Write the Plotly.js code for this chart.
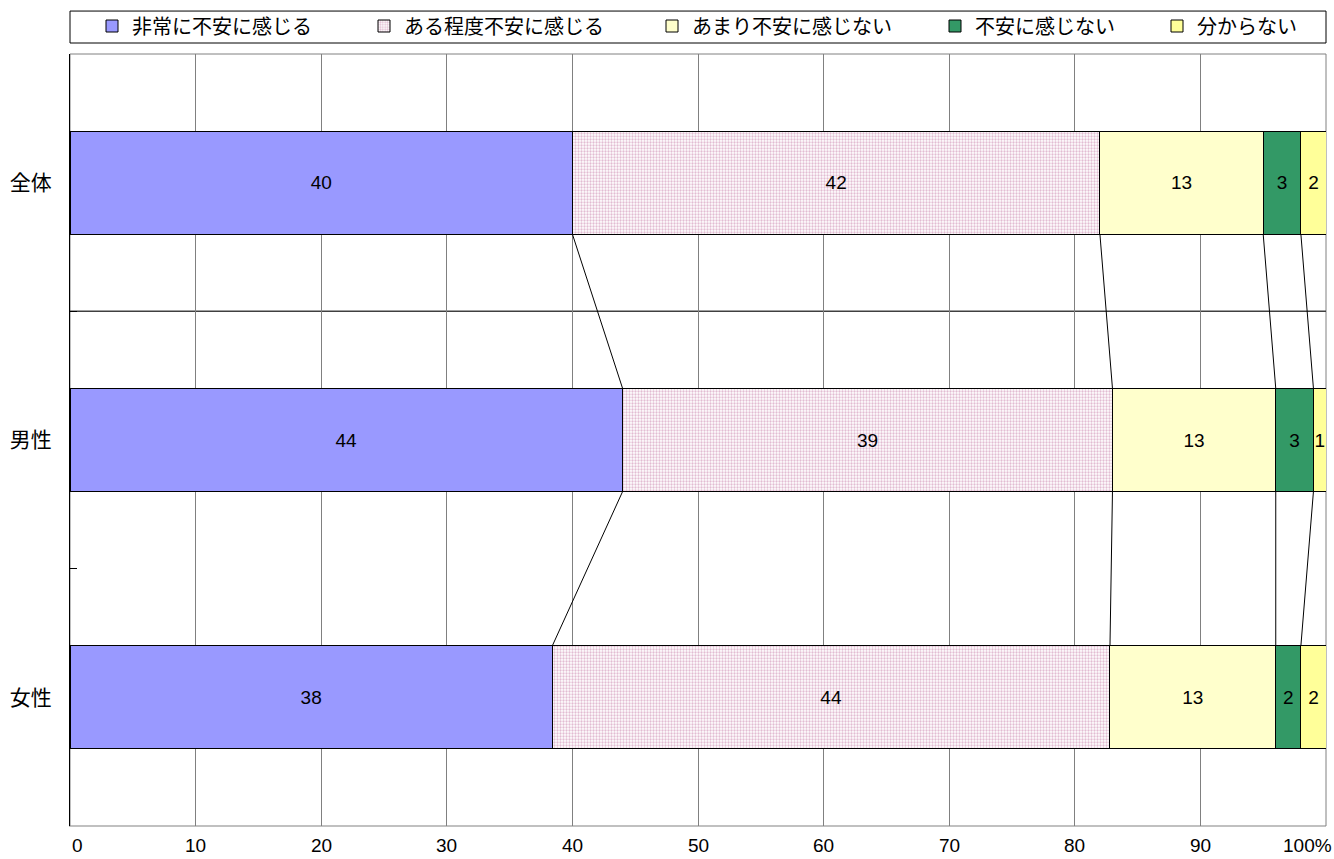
<!DOCTYPE html>
<html>
<head>
<meta charset="utf-8">
<script src="https://cdn.plot.ly/plotly-3.0.1.min.js"></script>
<style>
  html, body { margin: 0; padding: 0; background: #ffffff; }
  #chart { width: 1334px; height: 859px; }
</style>
</head>
<body>
<div id="chart"></div>
<script>
// Respondent groups (top to bottom)
const categories = ['全体', '男性', '女性'];

// Answer options, in stacking order
const seriesNames = ['非常に不安に感じる', 'ある程度不安に感じる', 'あまり不安に感じない', '不安に感じない', '分からない'];

// Shares (%) per group
const veryAnxious     = [40.0, 44.0, 38.4];
const somewhatAnxious = [42.0, 39.0, 44.4];
const notVeryAnxious  = [13.0, 13.0, 13.2];
const notAnxious      = [3.0, 3.0, 2.0];
const dontKnow        = [2.0, 1.0, 2.0];

// Percentage axis ticks
const xTickValues = [0, 10, 20, 30, 40, 50, 60, 70, 80, 90, 100];
const xTickText   = ['0', '10', '20', '30', '40', '50', '60', '70', '80', '90', '100%'];

const seriesValues = [veryAnxious, somewhatAnxious, notVeryAnxious, notAnxious, dontKnow];
const seriesColors = ['#9999ff', '#f3e3ec', '#ffffcc', '#339966', '#ffff99'];

const FONT = '"Noto Sans CJK JP", "Noto Sans", sans-serif';
const NUM_FONT = '"Liberation Sans", Arial, sans-serif';
const W = 1334, H = 859;
const M = { l: 70, r: 8, t: 53, b: 33 };
const plotW = W - M.l - M.r;
const plotH = H - M.t - M.b;
const px2paperX = p => (p - M.l) / plotW;
const px2paperY = p => (H - M.b - p) / plotH;

const barHalf = 0.2;            // half of the bar thickness in category units

const traces = seriesValues.map((vals, s) => {
  const t = {
    type: 'bar',
    orientation: 'h',
    name: seriesNames[s],
    y: categories,
    x: vals,
    legend: s === 0 ? 'legend' : 'legend' + (s + 1),
    marker: {
      color: seriesColors[s],
      line: { color: '#000000', width: 1 }
    },
    texttemplate: '%{x:.0f}',
    textposition: 'inside',
    insidetextanchor: 'middle',
    textangle: 0,
    constraintext: 'none',
    textfont: { family: NUM_FONT, size: 19, color: '#000000' },
    hoverinfo: 'name+x'
  };
  if (s === 1) {
    t.marker.pattern = { shape: '.', fgcolor: '#e2bcd2', bgcolor: '#ffffff', size: 3, solidity: 0.45 };
  }
  return t;
});

// cumulative boundaries per group
const cumulative = categories.map((_, i) => {
  let acc = 0;
  return seriesValues.map(v => (acc += v[i]));
});

const shapes = [];

// plot frame (top / right)
shapes.push({
  type: 'rect', xref: 'paper', yref: 'paper', x0: 0, x1: 1, y0: 0, y1: 1,
  line: { color: '#808080', width: 1 }, layer: 'below'
});

// separator between first and second group
shapes.push({
  type: 'line', xref: 'x', yref: 'y', x0: 0, x1: 100, y0: 0.5, y1: 0.5,
  line: { color: '#404040', width: 1.5 }, layer: 'below'
});

// series lines joining the segment boundaries of neighbouring bars
for (let i = 0; i < categories.length - 1; i++) {
  for (let k = 0; k < seriesValues.length - 1; k++) {
    shapes.push({
      type: 'line', xref: 'x', yref: 'y',
      x0: cumulative[i][k], y0: i + barHalf,
      x1: cumulative[i + 1][k], y1: i + 1 - barHalf,
      line: { color: '#000000', width: 1 }
    });
  }
}

// legend frame
shapes.push({
  type: 'rect', xref: 'paper', yref: 'paper',
  x0: px2paperX(70), x1: px2paperX(1326), y0: px2paperY(42), y1: px2paperY(10),
  line: { color: '#000000', width: 1 }, fillcolor: '#ffffff'
});

// x tick labels: first one starts at the axis, last one ends at the right edge
const annotations = xTickValues.map((v, i) => ({
  xref: 'x', yref: 'paper', x: v, y: 0,
  yanchor: 'bottom', yshift: -32,
  xanchor: i === 0 ? 'left' : (i === xTickValues.length - 1 ? 'right' : 'center'),
  xshift: i === xTickValues.length - 1 ? 8 : 0,
  text: xTickText[i], showarrow: false,
  font: { family: NUM_FONT, size: 19, color: '#000000' }
}));

const legendLefts = [92, 364, 652, 935, 1157];
const layout = {
  width: W, height: H,
  margin: M,
  paper_bgcolor: '#ffffff',
  plot_bgcolor: '#ffffff',
  barmode: 'stack',
  bargap: 1 - 2 * barHalf,
  showlegend: true,
  font: { family: FONT, color: '#000000' },
  xaxis: {
    range: [0, 100],
    tickvals: xTickValues,
    showticklabels: false,
    ticks: '',
    showgrid: true,
    gridcolor: '#808080',
    gridwidth: 1,
    zeroline: false,
    showline: true,
    linecolor: '#c0c0c0',
    linewidth: 1,
    fixedrange: true
  },
  yaxis: {
    type: 'category',
    categoryorder: 'array',
    categoryarray: categories,
    range: [2.5, -0.5],
    ticks: 'inside',
    ticklen: 7,
    tickcolor: '#000000',
    tickson: 'boundaries',
    ticklabelstandoff: 13,
    tickfont: { family: FONT, size: 21, color: '#000000' },
    showgrid: false,
    zeroline: false,
    showline: true,
    linecolor: '#000000',
    linewidth: 1,
    fixedrange: true
  },
  shapes: shapes,
  annotations: annotations
};

// one legend per series so each entry sits at its own spot inside the frame
legendLefts.forEach((p, s) => {
  layout[s === 0 ? 'legend' : 'legend' + (s + 1)] = {
    x: px2paperX(p), y: px2paperY(26),
    xanchor: 'left', yanchor: 'middle',
    orientation: 'h',
    bgcolor: 'rgba(0,0,0,0)',
    borderwidth: 0,
    itemwidth: 30,
    font: { family: FONT, size: 20, color: '#000000' }
  };
});

Plotly.newPlot('chart', traces, layout, { displayModeBar: false, staticPlot: true });
</script>
</body>
</html>
